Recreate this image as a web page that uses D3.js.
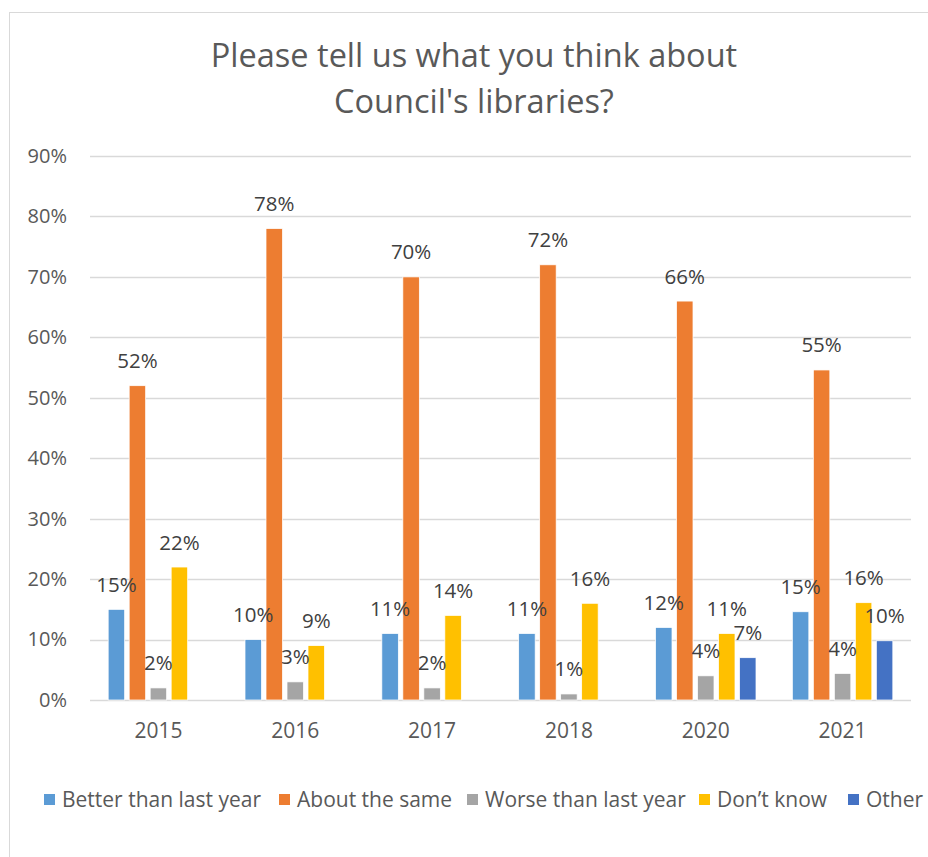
<!DOCTYPE html>
<html>
<head>
<meta charset="utf-8">
<script src="https://cdn.jsdelivr.net/npm/d3@7"></script>
<style>
  html, body { margin: 0; padding: 0; background: #fff; }
  svg { display: block; font-family: "Open Sans", sans-serif; }
</style>
</head>
<body>
<svg id="chart" width="928" height="857"></svg>
<script>
// Survey results by year
const years = ["2015", "2016", "2017", "2018", "2020", "2021"];
const seriesNames = ["Better than last year", "About the same", "Worse than last year", "Don\u2019t know", "Other"];
const seriesColors = ["#5B9BD5", "#ED7D31", "#A5A5A5", "#FFC000", "#4472C4"];
const betterThanLastYear = [0.15, 0.10, 0.11, 0.11, 0.12, 0.146];
const aboutTheSame      = [0.52, 0.78, 0.70, 0.72, 0.66, 0.546];
const worseThanLastYear = [0.02, 0.03, 0.02, 0.01, 0.04, 0.044];
const dontKnow          = [0.22, 0.09, 0.14, 0.16, 0.11, 0.161];
const other             = [null, null, null, null, 0.07, 0.098];
const yTicks = [0, 0.1, 0.2, 0.3, 0.4, 0.5, 0.6, 0.7, 0.8, 0.9];
const titleLines = ["Please tell us what you think about", "Council's libraries?"];

const values = [betterThanLastYear, aboutTheSame, worseThanLastYear, dontKnow, other];

const svg = d3.select("#chart");
const W = 928, H = 857;

// chart area frame
svg.append("rect")
  .attr("x", 9.5).attr("y", 12.5)
  .attr("width", W + 20).attr("height", H + 20)
  .attr("fill", "#fff").attr("stroke", "#D9D9D9").attr("stroke-width", 1);

// title
const title = svg.append("text")
  .attr("text-anchor", "middle")
  .attr("fill", "#595959")
  .style("font-size", "32.5px");
titleLines.forEach((t, i) => {
  title.append("tspan").attr("x", 474).attr("y", 66.5 + i * 46.5).text(t);
});

const plot = { left: 90, right: 911, top: 156, bottom: 700 };

const x0 = d3.scaleBand().domain(years).range([plot.left, plot.right]).paddingInner(0).paddingOuter(0);
const groupWidth = 100.5;
const x1 = d3.scaleBand().domain(seriesNames).range([-groupWidth / 2, groupWidth / 2]).paddingInner(0.214).paddingOuter(0);
const y = d3.scaleLinear().domain([0, 0.9]).range([plot.bottom, plot.top]);

// gridlines
svg.append("g")
  .selectAll("line")
  .data(yTicks)
  .join("line")
  .attr("x1", plot.left).attr("x2", plot.right)
  .attr("y1", d => Math.round(y(d)) + 0.5).attr("y2", d => Math.round(y(d)) + 0.5)
  .attr("stroke", "#D9D9D9").attr("stroke-width", 1.3);

// y axis labels
const yAxis = d3.axisLeft(y).tickValues(yTicks).tickFormat(d3.format(".0%")).tickSize(0).tickPadding(0);
const yg = svg.append("g").attr("transform", `translate(67,0)`).call(yAxis);
yg.select(".domain").remove();
yg.selectAll("text").attr("fill", "#595959").style("font-size", "20px").style("font-family", "'Open Sans', sans-serif");

// x axis labels
const xAxis = d3.axisBottom(x0).tickSize(0).tickPadding(0);
const xg = svg.append("g").attr("transform", `translate(0,723)`).call(xAxis);
xg.select(".domain").remove();
xg.selectAll("text").attr("fill", "#595959").style("font-size", "21px").style("font-family", "'Open Sans', sans-serif");

// bars + value labels
const rows = [];
years.forEach((yr, i) => {
  seriesNames.forEach((s, j) => {
    const v = values[j][i];
    if (v !== null && v !== undefined) rows.push({ year: yr, series: s, color: seriesColors[j], value: v });
  });
});

const groups = svg.append("g");
groups.selectAll("rect")
  .data(rows)
  .join("rect")
  .attr("x", d => x0(d.year) + x0.bandwidth() / 2 + x1(d.series))
  .attr("width", x1.bandwidth())
  .attr("y", d => y(d.value))
  .attr("height", d => y(0) - y(d.value))
  .attr("fill", d => d.color)
  .attr("stroke", "#fff").attr("stroke-width", 0.75);

groups.selectAll("text")
  .data(rows)
  .join("text")
  .attr("x", d => x0(d.year) + x0.bandwidth() / 2 + x1(d.series) + x1.bandwidth() / 2)
  .attr("y", d => y(d.value) - 17.5)
  .attr("text-anchor", "middle")
  .attr("fill", "#404040")
  .style("font-size", "20.5px")
  .text(d => d3.format(".0%")(d.value));

// legend
const legend = svg.append("g").attr("transform", "translate(0,800)");
const legendX = [44, 279, 467, 699, 848];
seriesNames.forEach((s, j) => {
  const g = legend.append("g").attr("transform", `translate(${legendX[j]},0)`);
  g.append("rect").attr("x", 0).attr("y", -6).attr("width", 11).attr("height", 11).attr("fill", seriesColors[j]);
  g.append("text").attr("x", 18).attr("y", 7).attr("fill", "#595959").style("font-size", "21px").text(s);
});
</script>
</body>
</html>
